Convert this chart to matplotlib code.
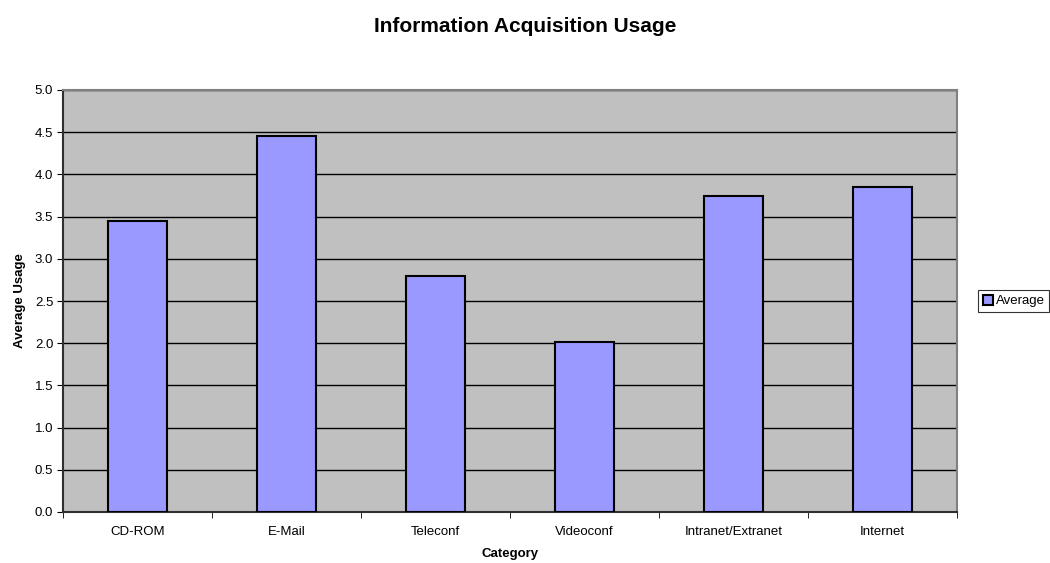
import matplotlib.pyplot as plt
import numpy as np

plt.rcParams['font.family'] = ['Liberation Sans', 'DejaVu Sans']

categories = ["CD-ROM", "E-Mail", "Teleconf", "Videoconf", "Intranet/Extranet", "Internet"]
average = [3.45, 4.45, 2.80, 2.02, 3.75, 3.85]

fig = plt.figure(figsize=(10.5, 5.63), dpi=100)
ax = fig.add_axes([63 / 1050, 1 - 512 / 563, (957 - 63) / 1050, (512 - 90) / 563])
ax.set_facecolor("#c0c0c0")

x = np.arange(len(categories))
ax.bar(x, average, width=0.4, color="#9999ff", edgecolor="black", linewidth=1.5,
       label="Average", zorder=3)

ax.set_xlim(-0.5, len(categories) - 0.5)
ax.set_ylim(0, 5)
ax.set_yticks(np.arange(0, 5.01, 0.5))
ax.set_yticklabels([f"{v:.1f}" for v in np.arange(0, 5.01, 0.5)])
ax.set_xticks(x)
ax.set_xticklabels(categories)
ax.set_xticks(np.arange(-0.5, len(categories)), minor=True)
ax.tick_params(axis="x", which="major", length=0, labelsize=9.5, pad=10)
ax.tick_params(axis="x", which="minor", length=4, direction="out")
ax.tick_params(axis="y", length=4, direction="out", labelsize=9.5, pad=3)
ax.yaxis.grid(True, color="black", linewidth=1, zorder=1)
ax.set_axisbelow(True)

for side in ["top", "right"]:
    ax.spines[side].set_color("#808080")
    ax.spines[side].set_linewidth(1.5)
for side in ["left", "bottom"]:
    ax.spines[side].set_color("#303030")
    ax.spines[side].set_linewidth(1.5)

ax.set_xlabel("Category", fontsize=9.5, fontweight="bold", labelpad=7)
ax.set_ylabel("Average Usage", fontsize=9.5, fontweight="bold", labelpad=6)
fig.suptitle("Information Acquisition Usage", fontsize=15, fontweight="bold",
             y=1 - 27 / 563, va="center")

leg = fig.legend(loc="center left", bbox_to_anchor=(978 / 1050, 1 - 301 / 563),
                 fontsize=9.5, frameon=True, fancybox=False, edgecolor="black",
                 handlelength=0.8, handleheight=0.8, handletextpad=0.2,
                 borderpad=0.35, borderaxespad=0)
leg.get_frame().set_linewidth(0.8)

fig.savefig("out.png", dpi=100)
